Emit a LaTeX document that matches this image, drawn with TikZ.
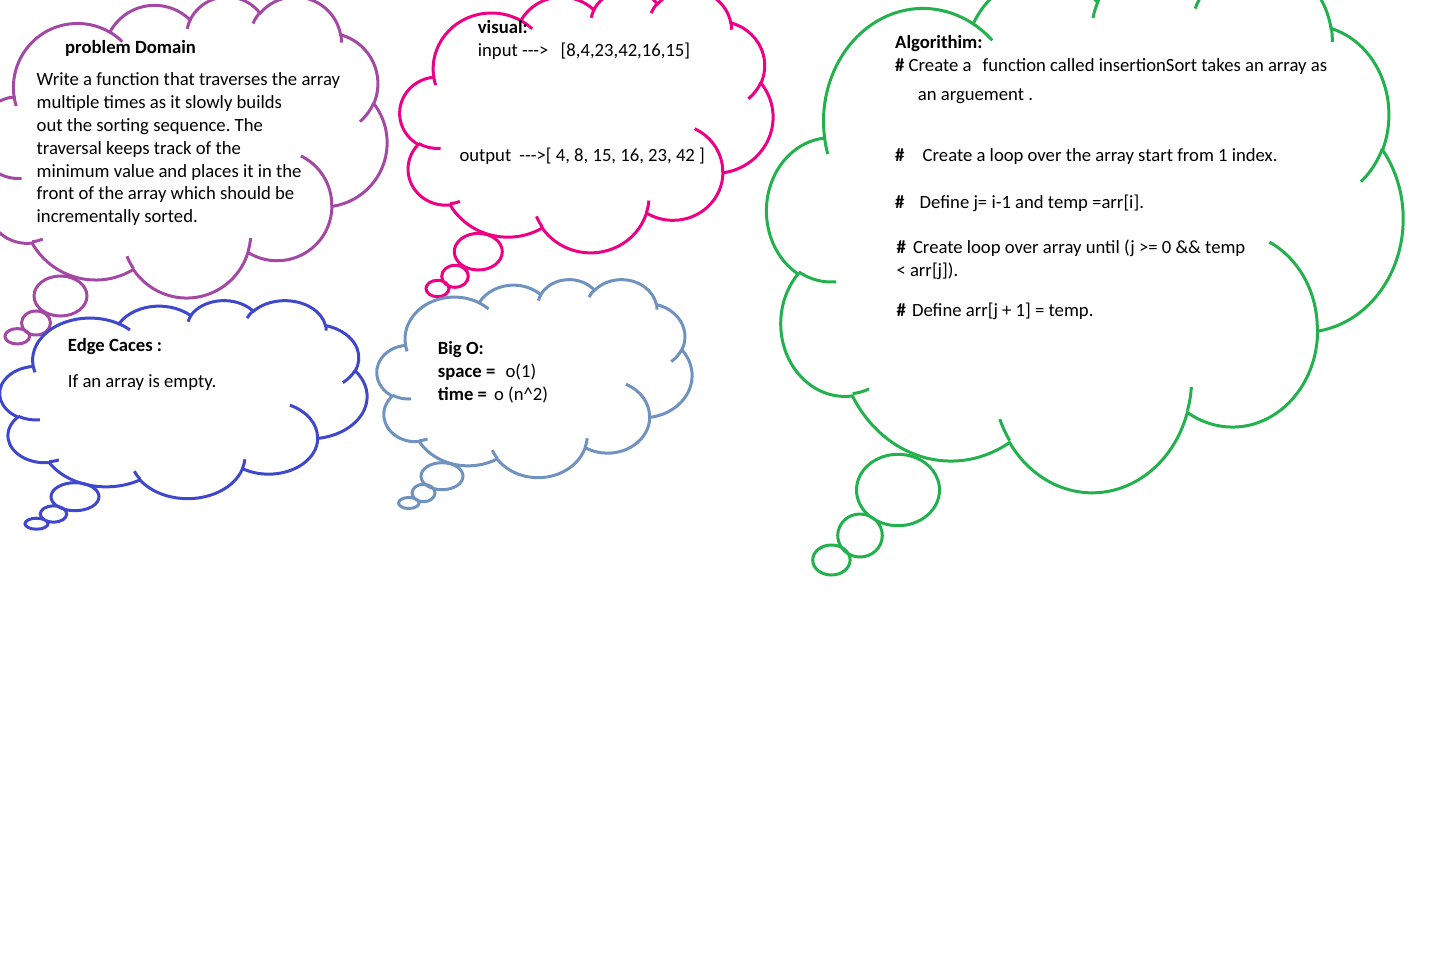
\documentclass[tikz,border=0pt]{standalone}
\usepackage{fontspec}
\setmainfont{Carlito}[Ligatures=TeXOff]
\usepackage{xcolor}
\definecolor{PaintPurple}{RGB}{163,73,164}
\definecolor{PaintRose}{RGB}{238,0,132}
\definecolor{PaintGreen}{RGB}{34,177,76}
\definecolor{PaintIndigo}{RGB}{63,72,204}
\definecolor{PaintSlate}{RGB}{112,146,190}

\tikzset{
  thought cloud/.pic={
    % outline of the puffs, drawn on a 432 x 432 box
    \draw[pic actions] (39.00,143.70)
      arc[start angle=-187.76,end angle=-59.67,x radius=67.53,y radius=91.90]
      arc[start angle=-152.02,end angle=-45.46,x radius=53.33,y radius=72.67]
      arc[start angle=-153.49,end angle=-37.34,x radius=43.65,y radius=59.45]
      arc[start angle=-139.72,end angle=-10.22,x radius=48.57,y radius=65.95]
      arc[start angle=-74.77,end angle=23.21,x radius=53.33,y radius=72.73]
      arc[start angle=-37.53,end angle=81.86,x radius=67.75,y radius=92.20]
      arc[start angle=0.46,end angle=121.99,x radius=57.85,y radius=78.67]
      arc[start angle=16.85,end angle=146.22,x radius=67.52,y radius=92.15]
      arc[start angle=58.97,end angle=150.19,x radius=77.20,y radius=105.43]
      arc[start angle=83.31,end angle=223.12,x radius=43.60,y radius=59.18]
      arc[start angle=120.36,end angle=264.11,x radius=43.45,y radius=59.45]
      -- cycle;
    % the little inner hooks
    \draw[pic actions]
      (46.93,261.77) arc[start angle=85.54,end angle=120.36,x radius=43.45,y radius=59.45]
      (69.28,348.99) arc[start angle=68.23,end angle=83.31,x radius=43.60,y radius=59.18]
      (164.78,390.90) arc[start angle=146.22,end angle=158.47,x radius=67.52,y radius=92.15]
      (288.27,347.51) arc[start angle=4.74,end angle=16.85,x radius=67.52,y radius=92.15]
      (341.29,229.54) arc[start angle=-64.03,end angle=0.46,x radius=57.85,y radius=78.67]
      (417.98,153.54) arc[start angle=23.21,end angle=49.64,x radius=53.33,y radius=72.73]
      (383.24,54.26) arc[start angle=-10.22,end angle=0.82,x radius=48.57,y radius=65.95]
      (290.78,39.52) arc[start angle=-156.27,end angle=-139.72,x radius=48.57,y radius=65.95]
      (221.41,47.20) arc[start angle=-167.72,end angle=-153.49,x radius=43.65,y radius=59.45]
      (140.00,51.92) arc[start angle=-59.67,end angle=-45.74,x radius=67.53,y radius=91.90]
      (41.27,157.89) arc[start angle=163.20,end angle=172.24,x radius=67.53,y radius=91.90];
  },
  bubble/.style={line width=3pt},
  txt/.style={anchor=base west,inner sep=0pt,align=left,font=\fontsize{18.67}{22.9}\selectfont\frenchspacing}
}

\begin{document}
\begin{tikzpicture}[x=1pt,y=1pt,yscale=-1]
\useasboundingbox (0,0) rectangle (1443,964);
\clip (0,0) rectangle (1443,964);

% problem domain
\pic[bubble,draw=PaintPurple,xscale=410/432,yscale=-301/432] at (-23,-4) {thought cloud};
\draw[bubble,PaintPurple] (60.5,296) ellipse[x radius=26.5,y radius=20]
  (36,323) ellipse[x radius=14.5,y radius=12]
  (17.3,336.3) ellipse[x radius=12.3,y radius=7.7];
\node[txt] (pdTitle) at (65,53.3) {\textbf{problem Domain}};
% multi-line nodes sit on the baseline of their last line
\node[txt] (pdText) at (36.5,222.8) {Write a function that traverses the array\\
  multiple times as it slowly builds\\
  out the sorting sequence. The\\
  traversal keeps track of the\\
  minimum value and places it in the\\
  front of the array which should be\\
  incrementally sorted.};

% visual
\pic[bubble,draw=PaintRose,xscale=373/432,yscale=-263/432] at (400,-11) {thought cloud};
\draw[bubble,PaintRose] (478.3,251.7) ellipse[x radius=24,y radius=18.3]
  (455,276.3) ellipse[x radius=13.3,y radius=11]
  (437.5,288.5) ellipse[x radius=11.5,y radius=8.2];
\node[txt] (visIn) at (477.7,56.7) {\textbf{visual:}\\input ---> \hspace*{8pt}[8,4,23,42,16,15]};
\node[txt] (visOut) at (459.3,161.7) {output\hspace*{4pt} --->[ 4, 8, 15, 16, 23, 42 ]};

% edge cases
\pic[bubble,draw=PaintIndigo,xscale=367/432,yscale=-198/432] at (0,300) {thought cloud};
\draw[bubble,PaintIndigo] (75,496.7) ellipse[x radius=24,y radius=14]
  (53.5,514) ellipse[x radius=13.2,y radius=8.2]
  (36.5,523.7) ellipse[x radius=11.5,y radius=5.5];
\node[txt] (edgeTitle) at (67.7,351) {\textbf{Edge Caces :}};
\node[txt] (edgeText) at (67.7,387.3) {If an array is empty.};

% big o
\pic[bubble,draw=PaintSlate,xscale=315/432,yscale=-198/432] at (377,279) {thought cloud};
\draw[bubble,PaintSlate] (442,476.2) ellipse[x radius=21,y radius=13.5]
  (423.5,493) ellipse[x radius=11.5,y radius=8.7]
  (408.8,503) ellipse[x radius=10.2,y radius=5.5];
\node[txt] (bigO) at (437.7,400) {\textbf{Big O:}\\\textbf{space =}\hspace*{6pt} o(1)\\\textbf{time =}\hspace*{3pt} o (n\textasciicircum 2)};

% algorithm
\pic[bubble,draw=PaintGreen,xscale=636/432,yscale=-531/432] at (767,-40) {thought cloud};
\draw[bubble,PaintGreen] (898,490) ellipse[x radius=41.5,y radius=35.7]
  (860,535.5) ellipse[x radius=22.3,y radius=21.5]
  (831.4,560) ellipse[x radius=18.7,y radius=15];
\node[txt] (algTitle) at (895,48.3) {\textbf{Algorithim:}};
\node[txt] (algFunc) at (895,71.7) {\textbf{\#} Create a\hspace*{7pt} function called insertionSort takes an array as};
\node[txt] (algArg) at (917.7,100) {an arguement .};
\node[txt] (algLoop) at (895,161.7) {\textbf{\#}\hspace*{14pt} Create a loop over the array start from 1 index.};
\node[txt] (algDef) at (895,208.3) {\textbf{\#}\hspace*{11pt} Define j= i-1 and temp =arr[i].};
\node[txt] (algWhile) at (896.3,276.7) {\textbf{\#}\hspace*{3pt} Create loop over array until (j >= 0 \&\& temp\\< arr[j]).};
\node[txt] (algSet) at (896.3,316.7) {\textbf{\#}\hspace*{2pt} Define arr[j + 1] = temp.};
\end{tikzpicture}
\end{document}
